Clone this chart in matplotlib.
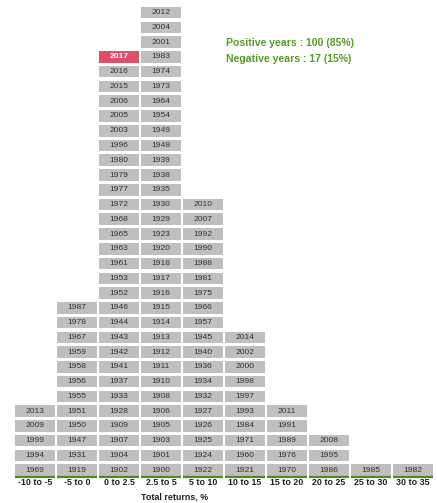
import matplotlib.pyplot as plt

plt.rcParams['font.family'] = ['Liberation Sans', 'DejaVu Sans']

bins = ["-10 to -5", "-5 to 0", "0 to 2.5", "2.5 to 5", "5 to 10",
        "10 to 15", "15 to 20", "20 to 25", "25 to 30", "30 to 35"]

# years in each bin, bottom to top
y_m10 = [1969, 1994, 1999, 2009, 2013]
y_m5 = [1919, 1931, 1947, 1950, 1951, 1955, 1956, 1958, 1959, 1967, 1978, 1987]
y_0 = [1902, 1904, 1907, 1909, 1928, 1933, 1937, 1941, 1942, 1943, 1944, 1946,
       1952, 1953, 1961, 1963, 1965, 1968, 1972, 1977, 1979, 1980, 1996, 2003,
       2005, 2006, 2015, 2016, 2017]
y_25 = [1900, 1901, 1903, 1905, 1906, 1908, 1910, 1911, 1912, 1913, 1914, 1915,
        1916, 1917, 1918, 1920, 1923, 1929, 1930, 1935, 1938, 1939, 1948, 1949,
        1954, 1964, 1973, 1974, 1983, 2001, 2004, 2012]
y_5 = [1922, 1924, 1925, 1926, 1927, 1932, 1934, 1936, 1940, 1945, 1957, 1966,
       1975, 1981, 1988, 1990, 1992, 2007, 2010]
y_10 = [1921, 1960, 1971, 1984, 1993, 1997, 1998, 2000, 2002, 2014]
y_15 = [1970, 1976, 1989, 1991, 2011]
y_20 = [1986, 1995, 2008]
y_25b = [1985]
y_30 = [1982]
columns = [y_m10, y_m5, y_0, y_25, y_5, y_10, y_15, y_20, y_25b, y_30]

highlight = 2017
pos_txt = "Positive years : 100 (85%)"
neg_txt = "Negative years : 17 (15%)"

grey = '#bfbfbf'
red = '#de4f6a'
green = '#4f8c1c'

fig = plt.figure(figsize=(4.37, 5.03), dpi=100)
ax = fig.add_axes([0, 0, 1, 1])
ax.set_xlim(-0.8333, 9.5714)
ax.set_ylim(-1.829, 32.25)
ax.axis('off')

h = 0.786
w = 0.94
for i, col in enumerate(columns):
    for r, yr in enumerate(col):
        c = red if yr == highlight else grey
        ax.bar(i, h, bottom=r, width=w, color=c, align='center', linewidth=0)
        if yr == highlight:
            ax.text(i, r + h / 2, str(yr), ha='center', va='center',
                    fontsize=6.1, color='white', fontweight='bold')
        else:
            ax.text(i, r + h / 2, str(yr), ha='center', va='center',
                    fontsize=6.1, color='#333333')
    ax.plot([i - w / 2, i + w / 2], [-0.06, -0.06], color=green, lw=1.6,
            solid_capstyle='butt')
    ax.text(i, -0.47, bins[i], ha='center', va='center', fontsize=6.4,
            fontweight='bold', color='#222222')

ax.text(3.33, -1.42, "Total returns, %", ha='center', va='center',
        fontsize=6.4, fontweight='bold', color='#222222')

ax.text(4.548, 29.36, pos_txt, ha='left', va='center', fontsize=7.6,
        fontweight='bold', color='#5a9a2c')
ax.text(4.548, 28.25, neg_txt, ha='left', va='center', fontsize=7.6,
        fontweight='bold', color='#5a9a2c')

plt.savefig('out.png', dpi=100)
